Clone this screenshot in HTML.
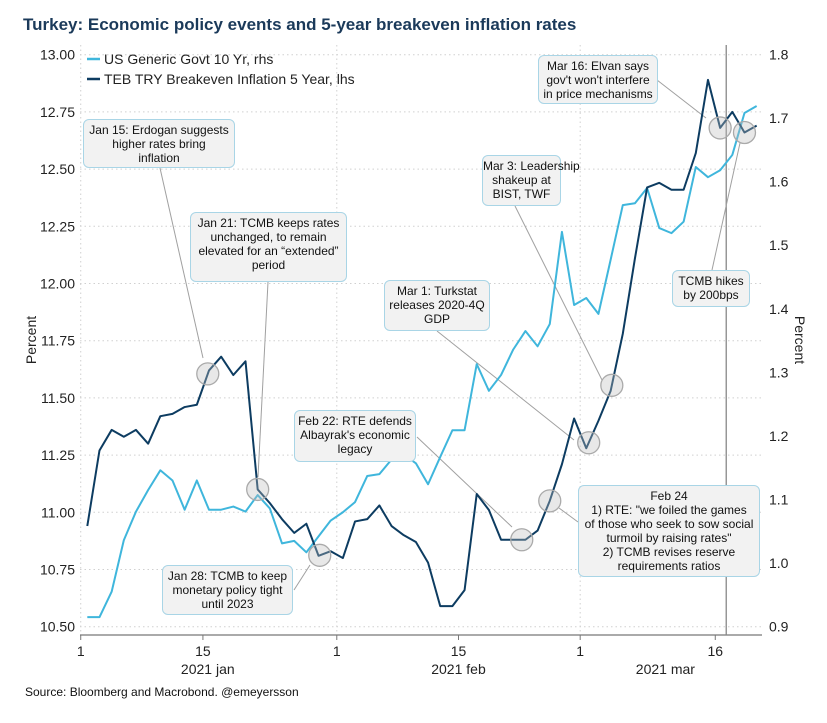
<!DOCTYPE html>
<html><head><meta charset="utf-8">
<style>
body{margin:0;background:#fff;font-family:"Liberation Sans",Arial,sans-serif;}
#wrap{position:relative;width:827px;height:723px;overflow:hidden;}
svg text{font-family:"Liberation Sans",Arial,sans-serif;}
.note{position:absolute;background:#f2f2f2;border:1px solid #a9d5e6;border-radius:6px;font-size:12px;line-height:14px;color:#111;text-align:center;box-sizing:border-box;padding-top:3px;white-space:nowrap;}
</style></head>
<body>
<div id="wrap">
<svg id="chart" width="827" height="723">
<text x="23" y="30" font-size="17" font-weight="bold" fill="#1b3a5a">Turkey: Economic policy events and 5-year breakeven inflation rates</text>
<g id="grid"></g>
<g id="axes"></g>
<g id="leaders" stroke="#a0a0a0" stroke-width="1"></g>
<g id="series"></g>
<g id="circles"></g>
<text transform="translate(36,340) rotate(-90)" text-anchor="middle" font-size="14" fill="#222">Percent</text>
<text transform="translate(795,340) rotate(90)" text-anchor="middle" font-size="14" fill="#222">Percent</text>
<line x1="87" y1="59" x2="100" y2="59" stroke="#3fb6dc" stroke-width="2.5"/>
<text x="104" y="64" font-size="14" fill="#222">US Generic Govt 10 Yr, rhs</text>
<line x1="87" y1="79" x2="100" y2="79" stroke="#0d3c61" stroke-width="2.5"/>
<text x="104" y="84" font-size="14" fill="#222">TEB TRY Breakeven Inflation 5 Year, lhs</text>
<text x="25" y="696" font-size="12" fill="#111">Source: Bloomberg and Macrobond. @emeyersson</text>
</svg>
<div class="note" style="left:83px;top:119px;width:152px;height:49px;">Jan 15: Erdogan suggests<br>higher rates bring<br>inflation</div>
<div class="note" style="left:190px;top:212px;width:157px;height:70px;">Jan 21: TCMB keeps rates<br>unchanged, to remain<br>elevated for an “extended”<br>period</div>
<div class="note" style="left:162px;top:565px;width:131px;height:50px;">Jan 28: TCMB to keep<br>monetary policy tight<br>until 2023</div>
<div class="note" style="left:294px;top:410px;width:122px;height:52px;">Feb 22: RTE defends<br>Albayrak's economic<br>legacy</div>
<div class="note" style="left:384px;top:280px;width:106px;height:51px;">Mar 1: Turkstat<br>releases 2020-4Q<br>GDP</div>
<div class="note" style="left:482px;top:155px;width:79px;height:51px;">Mar 3: Leadership<br>shakeup at<br>BIST, TWF</div>
<div class="note" style="left:538px;top:55px;width:120px;height:49px;">Mar 16: Elvan says<br>gov't won't interfere<br>in price mechanisms</div>
<div class="note" style="left:672px;top:270px;width:78px;height:37px;">TCMB hikes<br>by 200bps</div>
<div class="note" style="left:578px;top:485px;width:182px;height:92px;">Feb 24<br>1) RTE: "we foiled the games<br>of those who seek to sow social<br>turmoil by raising rates"<br>2) TCMB revises reserve<br>requirements ratios</div>
</div>
<script>
const tebValues=[10.94,11.27,11.36,11.33,11.36,11.30,11.42,11.43,11.46,11.47,11.62,11.68,11.60,11.66,11.10,11.04,10.97,10.91,10.95,10.81,10.83,10.80,10.96,10.97,11.03,10.94,10.90,10.87,10.78,10.59,10.59,10.66,11.08,11.01,10.88,10.88,10.88,10.92,11.05,11.21,11.41,11.28,11.40,11.53,11.78,12.11,12.42,12.44,12.41,12.41,12.57,12.89,12.68,12.75,12.66,12.69];
const usValues=[0.915,0.915,0.955,1.036,1.081,1.115,1.146,1.130,1.084,1.130,1.084,1.084,1.089,1.081,1.107,1.086,1.031,1.035,1.017,1.042,1.067,1.080,1.096,1.137,1.140,1.163,1.171,1.157,1.124,1.167,1.209,1.209,1.313,1.271,1.296,1.336,1.365,1.341,1.376,1.521,1.406,1.417,1.392,1.477,1.563,1.566,1.590,1.527,1.519,1.537,1.623,1.607,1.618,1.642,1.708,1.719];
const leftTicks=[10.50,10.75,11.00,11.25,11.50,11.75,12.00,12.25,12.50,12.75,13.00];
const rightTicks=[0.9,1.0,1.1,1.2,1.3,1.4,1.5,1.6,1.7,1.8];
const xTickLabels=["1","15","1","15","1","16"];
const xTickIdx=[-0.54,9.5,20.5,30.5,40.5,51.6];
const monthLabels=["2021 jan","2021 feb","2021 mar"];
const monthIdx=[9.9,30.5,47.5];
const monthStartIdx=[-0.54,20.5,40.5];
const markerIdx=52.5;
const eventSeries=["teb","teb","teb","teb","teb","teb","teb","teb","teb"];
const eventIdx=[9.9,14,19.1,35.7,41.2,43.1,52,54,38];

const X0=87.3,STEP=12.17,PL=80,PR=762,PT=45,PB=635;
const x=i=>X0+STEP*i;
const yL=v=>626.7-(v-10.5)*228.8;
const yR=v=>626.7-(v-0.9)*635.8;
const NS="http://www.w3.org/2000/svg";
function mk(tag,attrs,parent){const e=document.createElementNS(NS,tag);for(const k in attrs)e.setAttribute(k,attrs[k]);parent.appendChild(e);return e;}
const grid=document.getElementById('grid'),axes=document.getElementById('axes'),ser=document.getElementById('series'),circ=document.getElementById('circles'),lead=document.getElementById('leaders');
leftTicks.forEach(v=>{
  const l=mk('line',{x1:PL,x2:PR,y1:yL(v),y2:yL(v),stroke:'#d0d0d0','stroke-dasharray':'1.5,3'},grid);
  
  
  const t=mk('text',{x:75,y:yL(v)+5,'text-anchor':'end','font-size':14,fill:'#222'},axes);t.textContent=v.toFixed(2);
  
  
});
rightTicks.forEach(v=>{
  const t=mk('text',{x:769,y:yR(v)+5,'font-size':14,fill:'#222'},axes);t.textContent=v.toFixed(1);
  
  
});
monthStartIdx.forEach(i=>{
  const l=mk('line',{x1:x(i),x2:x(i),y1:PT,y2:PB,stroke:'#d0d0d0','stroke-dasharray':'1.5,3'},grid);
  
  
});
const ax=mk('line',{x1:PL,x2:PR,y1:PB,y2:PB,stroke:'#777','stroke-width':1.2},axes);


xTickIdx.forEach((i,k)=>{
  mk('line',{x1:x(i),x2:x(i),y1:PB,y2:PB+5,stroke:'#777'},axes);
  const t=mk('text',{x:x(i),y:656,'text-anchor':'middle','font-size':14,fill:'#222'},axes);t.textContent=xTickLabels[k];
  
  
});
monthLabels.forEach((m,k)=>{
  const t=mk('text',{x:x(monthIdx[k]),y:674,'text-anchor':'middle','font-size':14,fill:'#222'},axes);t.textContent=m;
  
  
});
const mkLine=mk('line',{x1:x(markerIdx),x2:x(markerIdx),y1:PT,y2:PB,stroke:'#888','stroke-width':1.3},axes);


const us=mk('polyline',{points:usValues.map((v,i)=>x(i)+','+yR(v)).join(' '),fill:'none',stroke:'#3fb6dc','stroke-width':2,'stroke-linejoin':'round'},ser);


const teb=mk('polyline',{points:tebValues.map((v,i)=>x(i)+','+yL(v)).join(' '),fill:'none',stroke:'#0d3c61','stroke-width':2,'stroke-linejoin':'round'},ser);


function valAt(s,i){const a=s==='us'?usValues:tebValues;const f=Math.floor(i),c=Math.min(a.length-1,f+1),t=i-f;const v=a[f]*(1-t)+a[c]*t;return s==='us'?yR(v):yL(v);}
eventSeries.forEach((s,k)=>{
  const c=mk('circle',{cx:x(eventIdx[k]),cy:valAt(s,eventIdx[k]),r:11,fill:'rgba(190,190,190,0.35)',stroke:'#aaa','stroke-width':1.3},circ);
  
  
});
const leaders=[[160,168,203,358],[268,282,258,477],[294,590,310,565],[417,437,512,527],[437,331,574,440],[515,206,602,380],[657,80,706,118],[712,270,740,143],[578,522,559,508]];
leaders.forEach(p=>{mk('line',{x1:p[0],y1:p[1],x2:p[2],y2:p[3]},lead);});
</script>
</body></html>
